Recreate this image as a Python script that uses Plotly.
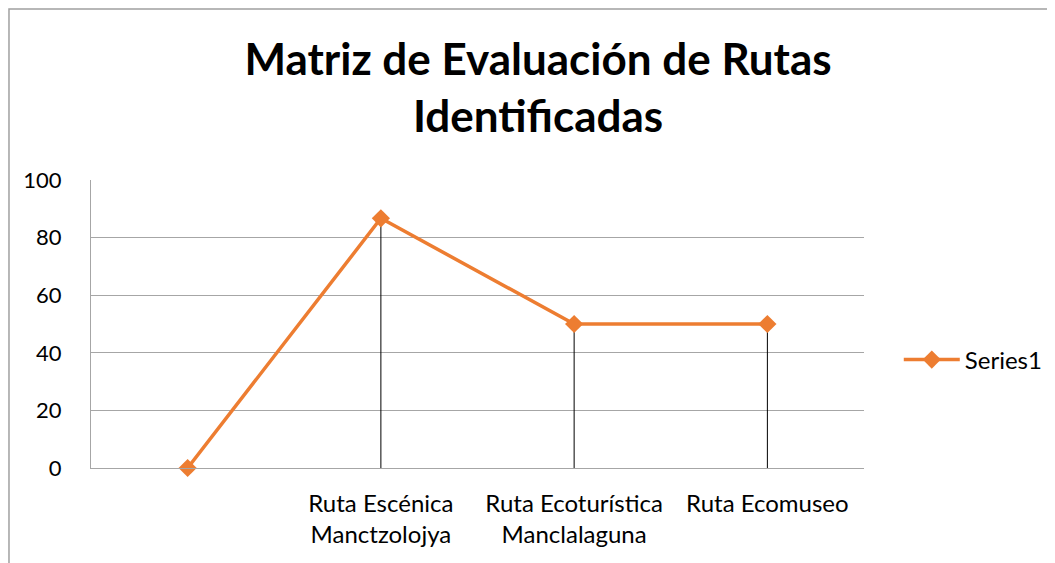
import plotly.graph_objects as go

categories = ["", "Ruta Escénica<br>Manctzolojya", "Ruta Ecoturística<br>Manclalaguna", "Ruta Ecomuseo"]
values = [0, 86.7, 50, 50]
series_name = "Series1"
y_ticks = [0, 20, 40, 60, 80, 100]
title_text = "Matriz de Evaluación de Rutas<br>Identificadas"

orange = "#ED7D31"
grid = "#A6A6A6"
font_family = "Lato, 'Open Sans', sans-serif"

xpos = list(range(len(categories)))

fig = go.Figure()
fig.add_trace(go.Scatter(
    x=xpos, y=values, name=series_name, mode="lines+markers",
    line=dict(color=orange, width=3.5),
    marker=dict(symbol="diamond", size=14, color=orange),
    cliponaxis=False,
    error_y=dict(type="data", symmetric=False, array=[0] * len(values),
                 arrayminus=values, color="black", thickness=1, width=0),
))

fig.update_layout(
    width=1055, height=563,
    margin=dict(l=83, r=199, t=172, b=103),
    paper_bgcolor="white", plot_bgcolor="white",
    font=dict(family=font_family, color="black", size=24),
    title=dict(text=title_text, x=0.5024, xanchor="center", y=0.881, yanchor="top",
               font=dict(family=font_family, size=44, color="black", weight="bold")),
    showlegend=True,
    legend=dict(x=1.045, y=0.375, xanchor="left", yanchor="middle",
                font=dict(size=24), itemwidth=56, bgcolor="rgba(0,0,0,0)"),
    xaxis=dict(range=[-0.5, len(categories) - 0.5], tickmode="array",
               tickvals=xpos, ticktext=categories, showgrid=False,
               showline=True, linecolor=grid, linewidth=1, ticks="",
               zeroline=False, fixedrange=True, ticklabelstandoff=14,
               tickfont=dict(size=24)),
    yaxis=dict(range=[0, 100], tickmode="array", tickvals=y_ticks,
               showgrid=True, gridcolor=grid, gridwidth=1,
               showline=True, linecolor=grid, linewidth=1, ticks="",
               zeroline=False, ticklabelstandoff=24, tickfont=dict(size=22)),
    shapes=[dict(type="rect", xref="paper", yref="paper",
                 x0=-0.1061, x1=1.4, y0=-0.6, y1=1.594,
                 line=dict(color="#A0A0A0", width=1.5), fillcolor="rgba(0,0,0,0)",
                 layer="below")],
)

fig.write_html("out.html")
